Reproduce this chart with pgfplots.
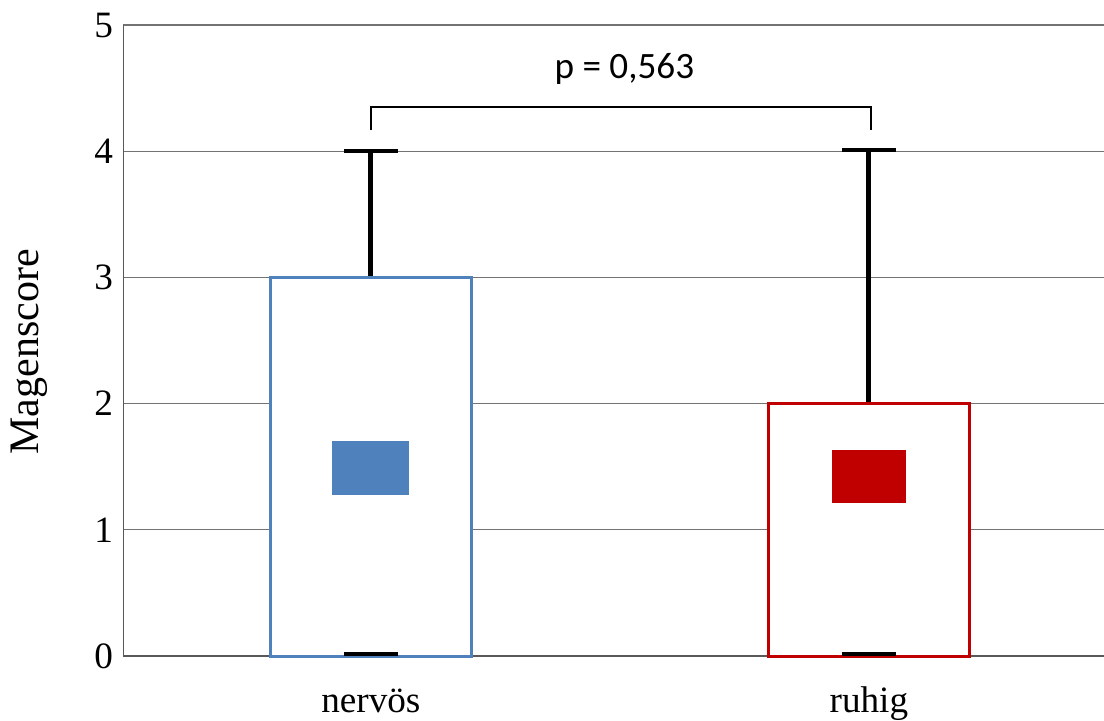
\documentclass[border=0pt]{standalone}
\usepackage{pgfplots}
\pgfplotsset{compat=1.18}
\usepackage{fontspec}
\setmainfont{Liberation Serif}
\newfontfamily\calfont{Carlito}
\definecolor{nblue}{HTML}{4F81BD}
\definecolor{rred}{HTML}{C00000}
\begin{document}
\begin{tikzpicture}
\useasboundingbox (0,0) rectangle (552pt,360pt);
\begin{axis}[
  at={(61.65pt,32pt)}, anchor=south west,
  scale only axis, width=490.35pt, height=315.5pt,
  xmin=-0.497, xmax=1.472, ymin=0, ymax=5,
  clip=false,
  axis lines*=left,
  axis line style={black!65, line width=0.6pt},
  ytick={0,1,2,3,4,5},
  xtick={0,1}, xticklabels={nervös,ruhig},
  major tick length=0pt,
  ymajorgrids, grid style={black!55, line width=0.6pt},
  tick label style={font=\fontsize{18.6}{20}\selectfont},
  /pgf/number format/assume math mode=true,
  yticklabel style={anchor=east, inner sep=0pt, xshift=-5pt},
  xticklabel style={anchor=base, inner sep=0pt, yshift=-28pt},
  ylabel={Magenscore},
  every axis y label/.style={at={(axis description cs:-0.0958,0.482)}, rotate=90, anchor=center, font=\fontsize{21}{24}\selectfont},
]
% whiskers
\addplot[black, line width=2.5pt] coordinates {(0,3) (0,4)};
\addplot[black, line width=2.5pt] coordinates {(1,2) (1,4.01)};
% caps top
\addplot[black, line width=2.2pt] coordinates {(-0.054,4) (0.054,4)};
\addplot[black, line width=2.2pt] coordinates {(0.946,4.01) (1.054,4.01)};
% boxes
\addplot[draw=nblue, fill=white, line width=1.5pt, line join=miter] coordinates {(-0.202,0) (0.202,0) (0.202,3) (-0.202,3)} --cycle;
\addplot[draw=rred, fill=white, line width=1.5pt, line join=miter] coordinates {(0.798,0) (1.202,0) (1.202,2) (0.798,2)} --cycle;
% bottom caps
\addplot[black, line width=2.2pt] coordinates {(-0.054,0.015) (0.054,0.015)};
\addplot[black, line width=2.2pt] coordinates {(0.946,0.015) (1.054,0.015)};
% means
\addplot[draw=none, fill=nblue] coordinates {(-0.077,1.273) (0.077,1.273) (0.077,1.704) (-0.077,1.704)} --cycle;
\addplot[draw=none, fill=rred] coordinates {(0.925,1.212) (1.075,1.212) (1.075,1.632) (0.925,1.632)} --cycle;
% bracket
\addplot[black, line width=0.75pt] coordinates {(0,4.165) (0,4.35) (1.004,4.35) (1.004,4.165)};
\node[anchor=base, inner sep=0pt, font=\calfont\fontsize{18.6}{22}\selectfont] at (axis cs:0.509,4.58) {p = 0,563};
\end{axis}
\end{tikzpicture}
\end{document}
